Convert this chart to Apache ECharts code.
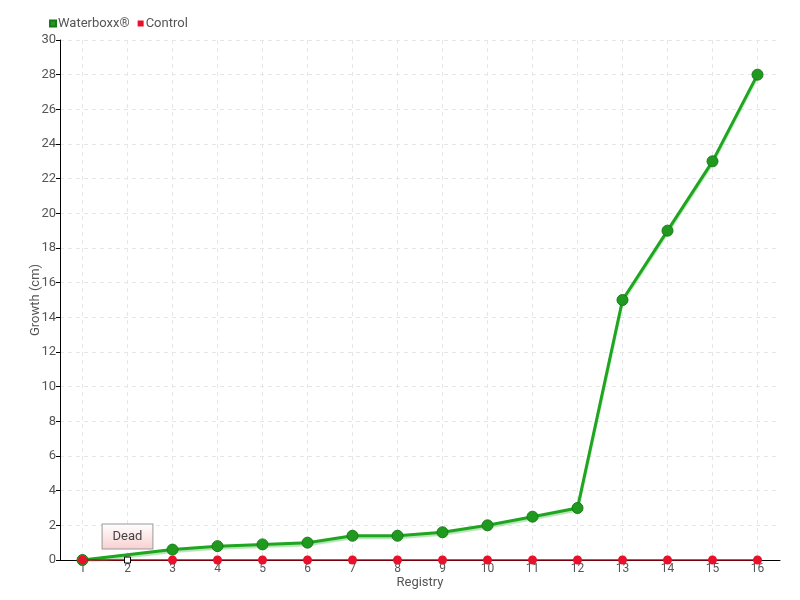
<!DOCTYPE html>
<html>
<head>
<meta charset="utf-8">
<script src="https://cdn.jsdelivr.net/npm/echarts@6/dist/echarts.min.js"></script>
<style>
  html, body { margin: 0; padding: 0; background: #fff; }
  #chart { width: 800px; height: 600px; }
</style>
</head>
<body>
<div id="chart"></div>
<script>
var categories = ['1', '2', '3', '4', '5', '6', '7', '8', '9', '10', '11', '12', '13', '14', '15', '16']
// registry 2 of Waterboxx has no reading (plant dead)
var waterboxx = [0, null, 0.6, 0.8, 0.9, 1.0, 1.4, 1.4, 1.6, 2.0, 2.5, 3.0, 15, 19, 23, 28]
var control = [0, 0, 0, 0, 0, 0, 0, 0, 0, 0, 0, 0, 0, 0, 0, 0]
var deadIndex = 1
var deadText = 'Dead'

var font = 'Roboto'
var textColor = '#555'

var myChart = echarts.init(document.getElementById('chart'))

var controlData = control.map(function (v, i) {
  if (i !== deadIndex) return v
  return {
    value: v,
    symbol: 'rect',
    symbolSize: 6,
    itemStyle: { color: '#fff', borderColor: '#000', borderWidth: 1 },
    label: {
      show: true,
      position: 'top',
      distance: 8,
      formatter: deadText,
      fontFamily: font,
      fontSize: 13,
      color: '#444',
      padding: [6, 10, 5, 10],
      borderColor: '#999',
      borderWidth: 1,
      backgroundColor: {
        type: 'linear', x: 0, y: 0, x2: 0, y2: 1,
        colorStops: [{ offset: 0, color: '#ffffff' }, { offset: 1, color: '#f8d0d0' }]
      }
    }
  }
})

var option = {
  animation: false,
  legend: {
    left: 44,
    top: 12,
    itemWidth: 6,
    itemHeight: 6,
    itemGap: 8,
    icon: 'rect',
    textStyle: { fontFamily: font, fontSize: 13, color: textColor, padding: [0, 0, 0, -3] },
    data: ['Waterboxx®', 'Control']
  },
  grid: { left: 60, right: 20, top: 40, bottom: 40 },
  xAxis: {
    type: 'category',
    data: categories,
    boundaryGap: true,
    name: 'Registry',
    nameLocation: 'middle',
    nameGap: 16,
    nameMoveOverlap: false,
    nameTextStyle: { fontFamily: font, fontSize: 13, color: textColor },
    axisLine: { lineStyle: { color: '#000', width: 1 } },
    axisTick: { show: false },
    axisLabel: { fontFamily: font, fontSize: 12, color: textColor, margin: 3 },
    splitLine: {
      show: true,
      alignWithLabel: true,
      lineStyle: { color: '#e6e6e6', type: [4, 4] }
    }
  },
  yAxis: {
    type: 'value',
    min: 0,
    max: 30,
    interval: 2,
    name: 'Growth (cm)',
    nameLocation: 'middle',
    nameGap: 18,
    nameMoveOverlap: false,
    nameTextStyle: { fontFamily: font, fontSize: 13, color: textColor },
    axisLine: { show: true, lineStyle: { color: '#000', width: 1 } },
    axisTick: { show: true, length: 4, lineStyle: { color: '#000' } },
    axisLabel: { fontFamily: font, fontSize: 13, color: textColor, margin: 4 },
    splitLine: { show: true, lineStyle: { color: '#e6e6e6', type: [4, 4] } }
  },
  series: [{
    name: 'Waterboxx®',
    type: 'line',
    data: waterboxx,
    connectNulls: true,
    symbol: 'circle',
    symbolSize: 11,
    color: '#1da31d',
    lineStyle: { color: '#1fa51f', width: 3, shadowColor: 'rgba(90,190,90,0.45)', shadowOffsetY: 2, shadowBlur: 1 },
    itemStyle: { color: '#1f9a1f', borderColor: '#167a16', borderWidth: 1 },
    z: 2
  }, {
    name: 'Control',
    type: 'line',
    data: controlData,
    symbol: 'circle',
    symbolSize: 9,
    color: '#e8102a',
    lineStyle: { color: '#d0021b', width: 1.5 },
    itemStyle: { color: '#e8102a' },
    z: 3
  }]
}

myChart.setOption(option)
</script>
</body>
</html>
